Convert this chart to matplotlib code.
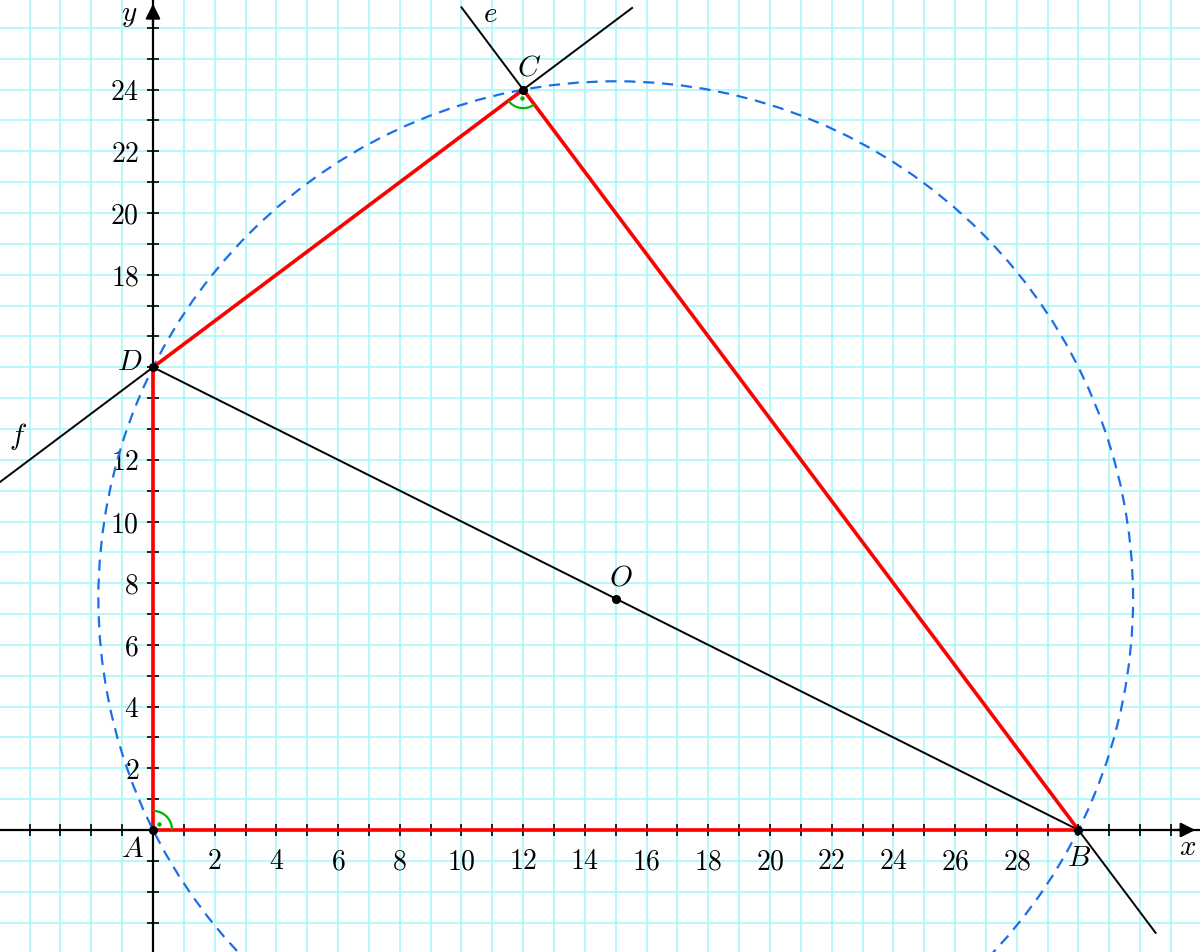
import numpy as np
import matplotlib
matplotlib.use("Agg")
import matplotlib.pyplot as plt
from matplotlib.patches import Circle, Arc

plt.rcParams['mathtext.fontset'] = 'cm'
plt.rcParams['font.family'] = ['DejaVu Serif']

# Points
point_names = ['A', 'B', 'C', 'D', 'O']
point_x = [0, 30, 12, 0, 15]
point_y = [0, 0, 24, 15, 7.5]
P = {n: (x, y) for n, x, y in zip(point_names, point_x, point_y)}

# Quadrilateral (red) path
quad = ['A', 'B', 'C', 'D', 'A']
# Line e (through B and C) and f (through D and C): x extent
e_x = [10.0, 32.5]
f_x = [-4.96, 15.53]

# Tick labels
x_label_vals = [2, 4, 6, 8, 10, 12, 14, 16, 18, 20, 22, 24, 26, 28]
y_label_vals = [2, 4, 6, 8, 10, 12, 18, 20, 22, 24]

xlim = (-4.96, 33.94)
ylim = (-3.955, 26.905)

fig = plt.figure(figsize=(12, 9.52), dpi=100)
ax = fig.add_axes([0, 0, 1, 1])
ax.set_xlim(*xlim)
ax.set_ylim(*ylim)
ax.set_aspect('equal')

grid_c = '#aaf6fa'
xt = np.arange(-4, 34, 1)
yt = np.arange(-3, 27, 1)
ax.set_xticks(xt)
ax.set_yticks(yt)
# grid drawn as plain lines beneath everything
ax.vlines(xt, ylim[0], ylim[1], colors=grid_c, lw=1.2, zorder=0)
ax.hlines(yt, xlim[0], xlim[1], colors=grid_c, lw=1.2, zorder=0)
ax.set_axisbelow(False)

for s in ['top', 'right']:
    ax.spines[s].set_visible(False)
ax.spines['left'].set_position(('data', 0))
ax.spines['bottom'].set_position(('data', 0))
ax.spines['left'].set_linewidth(1.6)
ax.spines['bottom'].set_linewidth(1.6)
ax.tick_params(direction='inout', length=8, width=1.2)

tick_fs = 20
ax.set_xticklabels([f'${int(v)}$' if int(v) in x_label_vals else '' for v in xt], fontsize=tick_fs)
ax.set_yticklabels([f'${int(v)}$' if int(v) in y_label_vals else '' for v in yt], fontsize=tick_fs)
ax.tick_params(axis='x', pad=9)
ax.tick_params(axis='y', pad=6)

# axis arrows
ax.annotate('', xy=(33.88, 0), xytext=(33.0, 0),
            arrowprops=dict(arrowstyle='-|>', color='black', lw=1.6, mutation_scale=22))
ax.annotate('', xy=(0, 26.87), xytext=(0, 26.0),
            arrowprops=dict(arrowstyle='-|>', color='black', lw=1.6, mutation_scale=22))

# circle
O = P['O']
r = np.hypot(P['B'][0] - O[0], P['B'][1] - O[1])
circ = Circle(O, r, fill=False, ec='#1a6fe8', lw=1.6, ls=(0, (5, 3.5)), zorder=3)
ax.add_patch(circ)

# line BD
ax.plot([P['D'][0], P['B'][0]], [P['D'][1], P['B'][1]], color='black', lw=1.4, zorder=4)

# line e through B, C
sl_e = (P['C'][1] - P['B'][1]) / (P['C'][0] - P['B'][0])
ex = np.array(e_x)
ax.plot(ex, P['B'][1] + sl_e * (ex - P['B'][0]), color='black', lw=1.4, zorder=4)
# line f through D, C
sl_f = (P['C'][1] - P['D'][1]) / (P['C'][0] - P['D'][0])
fx = np.array(f_x)
ax.plot(fx, P['D'][1] + sl_f * (fx - P['D'][0]), color='black', lw=1.4, zorder=4)

# red quadrilateral
ax.plot([P[n][0] for n in quad], [P[n][1] for n in quad], color='#ff0000', lw=2.6,
        solid_capstyle='round', solid_joinstyle='round', zorder=5)

# angle marks
green = '#00b800'
def angle_mark(v, p1, p2, rad):
    a1 = np.degrees(np.arctan2(p1[1] - v[1], p1[0] - v[0]))
    a2 = np.degrees(np.arctan2(p2[1] - v[1], p2[0] - v[0]))
    if a2 < a1:
        a2 += 360
    ax.add_patch(Arc(v, 2 * rad, 2 * rad, theta1=a1, theta2=a2, color=green, lw=1.6, zorder=6))
    am = np.radians((a1 + a2) / 2)
    ax.plot(v[0] + rad * 0.45 * np.cos(am), v[1] + rad * 0.45 * np.sin(am), 'o',
            color=green, ms=2.2, zorder=6)

angle_mark(P['A'], P['B'], P['D'], 0.62)
angle_mark(P['C'], P['D'], P['B'], 0.6)

# points
ax.plot(point_x, point_y, 'o', color='black', ms=5.5, zorder=7)

# labels
lab_fs = 21
ax.text(-0.68, -0.62, '$A$', fontsize=lab_fs, ha='center', va='center')
ax.text(30.02, -0.9, '$B$', fontsize=lab_fs, ha='center', va='center')
ax.text(12.2, 24.72, '$C$', fontsize=lab_fs, ha='center', va='center')
ax.text(-0.75, 15.17, '$D$', fontsize=lab_fs, ha='center', va='center')
ax.text(15.17, 8.2, '$O$', fontsize=lab_fs, ha='center', va='center')
ax.text(10.92, 26.45, '$e$', fontsize=lab_fs, ha='center', va='center')
ax.text(-4.38, 12.74, '$f$', fontsize=lab_fs, ha='center', va='center')
ax.text(33.55, -0.55, '$x$', fontsize=lab_fs, ha='center', va='center')
ax.text(-0.78, 26.42, '$y$', fontsize=lab_fs, ha='center', va='center')

fig.savefig('out.png', dpi=100)
